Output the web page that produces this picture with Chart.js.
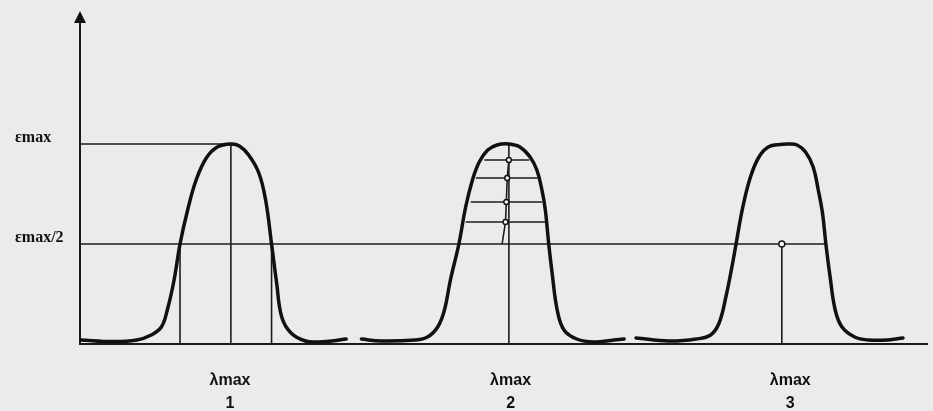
<!DOCTYPE html>
<html>
<head>
<meta charset="utf-8">
<script src="https://cdn.jsdelivr.net/npm/chart.js@4/dist/chart.umd.min.js"></script>
<style>
  html, body { margin: 0; padding: 0; background: #ebebeb; }
  #wrap { width: 933px; height: 411px; position: relative; }
</style>
</head>
<body>
<div id="wrap"><canvas id="bands"></canvas></div>
<script>
// absorption bands, x in arbitrary wavelength units (0..100), y as fraction of εmax
const band1X = [0, 3.9, 6.7, 8.4, 9.6, 10.3, 11.1, 11.8, 12.7, 13.7, 14.9, 16.2, 17.8, 18.8, 19.9, 21.1, 21.9, 22.6, 23.2, 23.8, 24.9, 26.6, 28.1, 29.7, 31.4];
const band1Y = [0.02, 0.012, 0.02, 0.045, 0.085, 0.17, 0.32, 0.5, 0.67, 0.82, 0.93, 0.985, 1.0, 0.99, 0.945, 0.855, 0.72, 0.5, 0.305, 0.135, 0.055, 0.015, 0.01, 0.015, 0.025];

const band2X = [33.2, 35.5, 39.5, 41.0, 42.2, 43.0, 43.7, 44.7, 45.5, 46.3, 47.1, 48.1, 49.2, 50.6, 51.9, 53.1, 53.9, 54.5, 54.9, 55.3, 55.7, 56.3, 57.1, 58.6, 60.6, 63.0, 64.2];
const band2Y = [0.025, 0.015, 0.02, 0.035, 0.085, 0.17, 0.32, 0.5, 0.685, 0.82, 0.91, 0.97, 0.995, 1.0, 0.985, 0.935, 0.87, 0.77, 0.67, 0.5, 0.355, 0.17, 0.07, 0.025, 0.01, 0.02, 0.025];

const band3X = [65.6, 69.5, 72.7, 74.4, 75.4, 76.2, 77.0, 77.4, 78.2, 79.1, 80.1, 81.2, 82.6, 83.6, 84.6, 85.6, 86.5, 87.1, 87.6, 88.0, 88.5, 89.1, 89.9, 91.4, 93.0, 95.3, 97.1];
const band3Y = [0.03, 0.015, 0.025, 0.045, 0.105, 0.235, 0.405, 0.5, 0.685, 0.835, 0.935, 0.985, 0.998, 1.0, 0.995, 0.96, 0.885, 0.77, 0.655, 0.5, 0.335, 0.17, 0.085, 0.035, 0.02, 0.02, 0.03];

// guide lines
const emaxLevel = 1.0;
const halfLevel = 0.5;
const band1HalfCross = [11.8, 22.6];
const lambdaMaxLines = [17.8, 50.6, 82.8];
const halfLineEnd = 88.0;

// chords inside band 2 and their midpoints
const chordLevels = [0.92, 0.83, 0.71, 0.61];
const chordLeft = [47.7, 46.7, 46.1, 45.5];
const chordRight = [53.0, 54.0, 54.5, 54.9];
const chordMid = [50.6, 50.4, 50.3, 50.2];
const chordFoot = 49.8;

// axis labels
const xTickValues = [17.7, 50.8, 83.8];
const xTickLabels = [['λmax', '1'], ['λmax', '2'], ['λmax', '3']];
const yTickValues = [0.5, 1.0];
const yTickLabels = ['εmax/2', 'εmax'];

function zip(xs, ys) {
  return xs.map((x, i) => ({ x: x, y: ys[i] }));
}

function curve(xs, ys) {
  return {
    data: zip(xs, ys),
    borderColor: '#111',
    borderWidth: 3.5,
    pointRadius: 0,
    tension: 0.4,
    borderCapStyle: 'round',
    borderJoinStyle: 'round',
    fill: false
  };
}

function guide(points) {
  return {
    data: points,
    borderColor: '#1c1c1c',
    borderWidth: 1.6,
    pointRadius: 0,
    tension: 0,
    fill: false
  };
}

const datasets = [
  curve(band1X, band1Y),
  curve(band2X, band2Y),
  curve(band3X, band3Y),
  // markers
  {
    data: chordMid.map((x, i) => ({ x: x, y: chordLevels[i] }))
      .concat([{ x: lambdaMaxLines[2], y: halfLevel }]),
    showLine: false,
    pointRadius: [2.5, 2.5, 2.5, 2.5, 3],
    pointBorderWidth: 1.4,
    pointBackgroundColor: '#f4f4f4',
    pointBorderColor: '#111'
  },
  guide([{ x: 0, y: emaxLevel }, { x: lambdaMaxLines[0], y: emaxLevel }]),
  guide([{ x: 0, y: halfLevel }, { x: halfLineEnd, y: halfLevel }]),
  guide([{ x: band1HalfCross[0], y: 0 }, { x: band1HalfCross[0], y: halfLevel }]),
  guide([{ x: band1HalfCross[1], y: 0 }, { x: band1HalfCross[1], y: halfLevel }]),
  guide([{ x: lambdaMaxLines[0], y: 0 }, { x: lambdaMaxLines[0], y: emaxLevel }]),
  guide([{ x: lambdaMaxLines[1], y: 0 }, { x: lambdaMaxLines[1], y: emaxLevel }]),
  guide([{ x: lambdaMaxLines[2], y: 0 }, { x: lambdaMaxLines[2], y: halfLevel }]),
  guide(chordMid.map((x, i) => ({ x: x, y: chordLevels[i] })).concat([{ x: chordFoot, y: halfLevel }]))
];
chordLevels.forEach((lv, i) => {
  datasets.push(guide([{ x: chordLeft[i], y: lv }, { x: chordRight[i], y: lv }]));
});

// arrow head on top of the y axis
const axisArrow = {
  id: 'axisArrow',
  afterDraw(chart) {
    const { ctx, chartArea } = chart;
    const x = chartArea.left;
    const y = chartArea.top - 9;
    ctx.save();
    ctx.fillStyle = '#111';
    ctx.beginPath();
    ctx.moveTo(x, y);
    ctx.lineTo(x - 6, y + 12);
    ctx.lineTo(x + 6, y + 12);
    ctx.closePath();
    ctx.fill();
    ctx.restore();
  }
};

new Chart(document.getElementById('bands'), {
  type: 'line',
  data: { datasets: datasets },
  plugins: [axisArrow],
  options: {
    responsive: true,
    maintainAspectRatio: false,
    animation: false,
    layout: { padding: { left: 15, top: 20, right: 0, bottom: 0 } },
    plugins: {
      legend: { display: false },
      tooltip: { enabled: false }
    },
    scales: {
      x: {
        type: 'linear',
        min: 0,
        max: 100,
        grid: { display: false, drawTicks: false },
        border: { display: true, color: '#1a1a1a', width: 2 },
        afterBuildTicks: function(scale) {
          scale.ticks = xTickValues.map(v => ({ value: v }));
        },
        afterFit: function(scale) {
          scale.height = 67;
        },
        ticks: {
          autoSkip: false,
          maxRotation: 0,
          padding: 25,
          color: '#111',
          font: { family: 'Liberation Sans', size: 16, weight: 'bold', lineHeight: 1.44 },
          callback: function(value, index) {
            return xTickLabels[index];
          }
        }
      },
      y: {
        type: 'linear',
        min: 0,
        max: 1.62,
        grid: { display: false, drawTicks: false },
        border: { display: true, color: '#1a1a1a', width: 2 },
        afterBuildTicks: function(scale) {
          scale.ticks = yTickValues.map(v => ({ value: v }));
        },
        afterFit: function(scale) {
          scale.width = 65;
        },
        ticks: {
          crossAlign: 'far',
          labelOffset: -6,
          color: '#111',
          font: { family: 'Liberation Serif', size: 16, weight: 'bold' },
          callback: function(value, index) {
            return yTickLabels[index];
          }
        }
      }
    }
  }
});
</script>
</body>
</html>
